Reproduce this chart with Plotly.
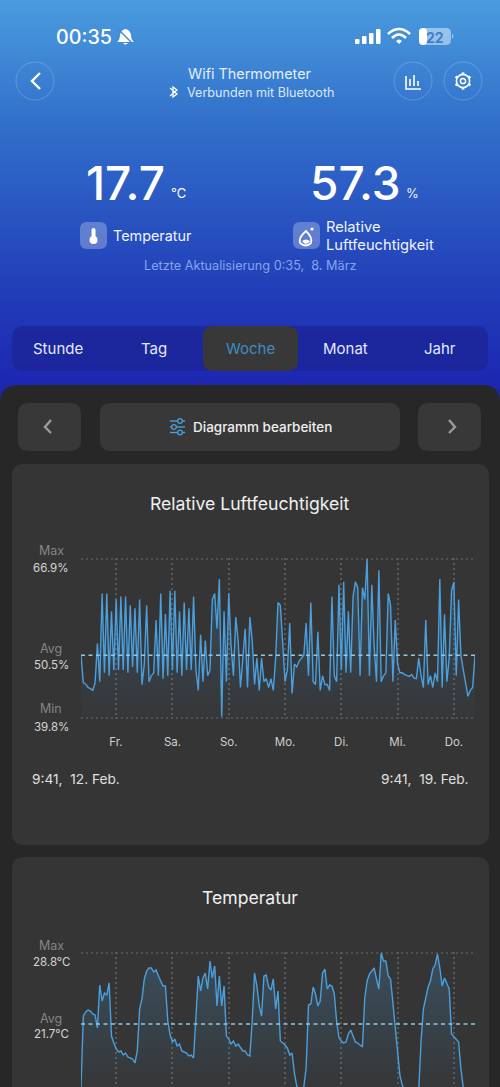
import math
import plotly.graph_objects as go

W, H = 500, 1087
FONT = "Inter"

humidity = [
 50.5,45.8,45.6,45.0,44.8,44.5,45.8,52.5,46,61,47.5,61,47,58,48,60,48,60.5,48,60.5,47.5,59,48.5,58.5,
 47.5,60,45.5,49,59,46,47,47.5,56.5,47,61,46.5,57.5,47,61.5,48,61.5,47.5,58,47,59.5,48,58.5,48,
 60.5,48,44.5,54,46,53,47,48,60,61,55,63.5,40,58,46,61,52,47,57,53,45,50,55,45,
 57,53,45.5,50,44.5,50,46,46.5,45,46.5,44.5,50,59.5,59,52,46,48,56,44,49,48.5,49.5,50,50.5,
 56,47,59.5,46,45.5,54.5,44.5,47,45.5,45.5,44.5,60.5,47,46,62.5,48,63,47.5,58,47.5,60.5,63,62,47,
 62,60,66.9,47,62.5,52,46,65,46,47,47.5,61,59,46,56.5,49,47.5,47.5,47.2,47,46.9,47.2,46.6,46.5,
 50,47,45,56.5,45.5,47,45,47.5,46,63.5,45,57.5,46,50,61.5,63,47,60,50.5,48,46,43.5,44.5,45,50.5,
]
temperature = [
 15.4,22.5,22.9,23.1,23,22.7,22.6,21.3,25.6,24,24.8,24.6,25.8,20.5,19.8,19.2,18.9,19,18.6,18.8,18.4,18.3,18.2,17.8,
 19,23.2,24.2,26.2,27,27.3,27.3,26.9,27.1,26.5,26,25.5,25.5,22,20.6,19.9,20.2,19.5,19.7,19,18.9,18.8,18.5,18.6,
 18.3,22,26.5,25,26.3,26.8,25.2,28,26.3,27.5,23.5,26.5,23.5,25.5,20.5,20.2,19.7,20,19.5,19.7,19.4,19,19,18.6,
 18.5,22,26.8,25.5,23.5,22.5,26.5,26.6,25.4,25.1,26.2,23.2,25,20,19.8,19.6,19.3,18.6,18.8,16.8,15.5,15.2,14.8,15.4,
 17.3,23.6,23.7,25.4,24.7,23.5,24,26.8,27.2,25.2,25.6,25.5,24.7,22,20.3,20,19.8,19.9,20.7,21.1,20.5,19.9,19.8,19.6,
 19.4,24.3,26,26.7,27,27.3,26.2,25.2,28.8,28,28,26.5,26.2,23.6,21.3,18.7,16.5,15.6,15.1,14.5,14,13.5,13.5,14,
 15,20,23.2,24.5,25.4,26,27.2,27.6,28.7,27.3,25.5,26.3,25.7,25.2,20.7,20.4,20.2,19.9,17.2,15.2,13.5,13.5,14,14.5,15,
]
hours = list(range(len(humidity)))
day_labels = ["Fr.", "Sa.", "So.", "Mo.", "Di.", "Mi.", "Do."]
day_hours = [14.9, 39.0, 63.0, 87.0, 111.0, 135.0, 159.0]
hum_max, hum_avg, hum_min = 66.9, 50.5, 39.8
tmp_max, tmp_avg = 28.8, 21.7
tmp_bottom = 15.4
tabs = ["Stunde", "Tag", "Woche", "Monat", "Jahr"]

LINE = "#4a9fdc"
AVG = "#8fc9ea"
GRID = "#595959"
CARD = "#353535"
shapes, ann = [], []

def fx(x): return x / W
def fy(y): return 1 - y / H

def P(s):
    out, i = [], 0
    for t in s.split():
        if t.isalpha():
            out.append(t)
        else:
            v = float(t)
            out.append(f"{fx(v):.5f}" if i % 2 == 0 else f"{fy(v):.5f}")
            i += 1
    res, buf = "", []
    for t in out:
        if t.isalpha():
            res += " " + t
            buf = []
        else:
            buf.append(t)
            res += (" " if len(buf) % 2 else ",") + t
    return res.strip()

def path(s, fill=None, line=None, w=1.5, layer="below"):
    shapes.append(dict(type="path", xref="paper", yref="paper", path=P(s),
                       fillcolor=fill or "rgba(0,0,0,0)",
                       line=dict(color=line or "rgba(0,0,0,0)", width=w if line else 0), layer=layer))

def rrect(x0, y0, x1, y1, r, fill, layer="below"):
    path(f"M {x0+r} {y0} L {x1-r} {y0} Q {x1} {y0} {x1} {y0+r} L {x1} {y1-r} Q {x1} {y1} {x1-r} {y1} "
         f"L {x0+r} {y1} Q {x0} {y1} {x0} {y1-r} L {x0} {y0+r} Q {x0} {y0} {x0+r} {y0} Z", fill=fill, layer=layer)

def circ(cx, cy, r, fill=None, line=None, w=1, layer="below"):
    shapes.append(dict(type="circle", xref="paper", yref="paper", x0=fx(cx-r), x1=fx(cx+r), y0=fy(cy+r), y1=fy(cy-r),
                       fillcolor=fill or "rgba(0,0,0,0)", line=dict(color=line or "rgba(0,0,0,0)", width=w if line else 0), layer=layer))

def txt(x, y, s, size, color, anchor="center", weight=400):
    shift = {"left": -2, "right": 2}.get(anchor, 0)
    ann.append(dict(xref="paper", yref="paper", x=fx(x), y=fy(y), xshift=shift, text=s, showarrow=False, xanchor=anchor, yanchor="middle",
                    font=dict(family=FONT, size=size, color=color, weight=weight)))

# background gradient, built from stacked bands
stops = [(0, (74, 156, 222)), (120, (50, 112, 203)), (290, (33, 62, 184)), (400, (28, 34, 176))]
for y in range(0, 400, 2):
    for (a, ca), (b, cb) in zip(stops, stops[1:]):
        if a <= y < b:
            t = (y - a) / (b - a)
            c = tuple(round(ca[i] + (cb[i] - ca[i]) * t) for i in range(3))
    shapes.append(dict(type="rect", xref="paper", yref="paper", x0=0, x1=1, y0=fy(y + 2.5), y1=fy(y),
                       fillcolor=f"rgb{c}", line=dict(width=0), layer="below"))

# panels
rrect(0, 385, 500, 1100, 18, "#272727")
rrect(12, 326, 488, 371, 12, "rgba(28,36,150,0.75)")
rrect(203, 326, 298, 371, 11, "#383838")
rrect(18, 403, 81, 451, 11, "#383838")
rrect(100, 403, 400, 451, 11, "#383838")
rrect(418, 403, 481, 451, 11, "#383838")
rrect(12, 464, 489, 845, 12, CARD)
rrect(12, 857, 489, 1110, 12, CARD)

# status bar
txt(56, 37, "00:35", 19.7, "white", "left", 500)
path("M 117 42 Q 120 40 120 35 Q 121 30 125.5 29 Q 130 30 131 35 Q 131 40 134 42 Z", fill="white")
path("M 123 43 Q 125.5 46 128 43 Z", fill="white")
path("M 118 29 L 134 45", line="#4388d4", w=1.4)
for i, (bx, top) in enumerate(zip((355, 362, 369, 376), (39, 36, 33, 29))):
    rrect(bx, top, bx + 4.5, 44, 1, "white")
path("M 388 34 Q 399 24 410 34", line="white", w=2.6)
path("M 392 38 Q 399 31 406 38", line="white", w=2.6)
path("M 396 41 L 399 44 L 402 41 Q 399 38 396 41 Z", fill="white")
rrect(419, 28, 451, 45, 5, "rgba(255,255,255,0.45)")
rrect(419, 28, 427, 45, 4, "white")
path("M 452 34 Q 455 36 452 39 Z", fill="rgba(255,255,255,0.5)")
txt(435, 37, "22", 14, "#3f7fcb", "center", 700)

# header
for cx in (35, 413, 463):
    circ(cx, 81, 19, line="rgba(255,255,255,0.2)", w=1)
path("M 40 73 L 32 81 L 40 89", line="white", w=2.4)
txt(250, 73, "Wifi Thermometer", 14.4, "#e3eefc")
txt(260, 92, "Verbunden mit Bluetooth", 12.6, "#dbe7fa")
path("M 170 88 L 177 94 L 173 97 L 173 87 L 177 90 L 170 96", line="white", w=1.3)
path("M 406 76 L 406 89 L 421 89", line="white", w=1.6)
for bx, top in ((410, 79), (414, 75), (418, 81)):
    path(f"M {bx} {top} L {bx} 86", line="white", w=1.6)
circ(463, 81, 6.6, line="white", w=1.6)
circ(463, 81, 2.6, line="white", w=1.5)
for k in range(6):
    a = math.radians(30 + 60 * k)
    path(f"M {463 + 6.4 * math.cos(a):.2f} {81 + 6.4 * math.sin(a):.2f} L {463 + 8.6 * math.cos(a):.2f} {81 + 8.6 * math.sin(a):.2f}",
         line="white", w=2.6)

# current readings
txt(86, 183, "17.7", 46, "white", "left", 500)
txt(171, 193, "°C", 13, "white", "left")
txt(310, 183, "57.3", 46, "white", "left", 500)
txt(406, 193, "%", 13, "#e6eefc", "left")
rrect(80, 222, 107, 249, 7, "rgba(255,255,255,0.27)")
rrect(91.5, 228, 95.5, 240, 2, "white")
circ(93.5, 240, 4, fill="white")
txt(113, 236, "Temperatur", 14.4, "#eef3ff", "left")
rrect(293, 222, 320, 249, 7, "rgba(255,255,255,0.27)")
path("M 306 231 Q 298 238 300 243 Q 306 248 311 243 Q 313 238 306 231 Z", line="white", w=1.8)
path("M 302 241 Q 306 238 310 241 Q 306 247 302 241 Z", fill="white")
circ(312, 229, 1.6, fill="white")
txt(326, 227, "Relative", 14.7, "#eef3ff", "left")
txt(326, 245, "Luftfeuchtigkeit", 14.7, "#eef3ff", "left")
txt(250, 266, "Letzte Aktualisierung 0:35,  8. März", 12.7, "#86a4ec")

# tabs
for cx, name in zip((58, 154, 250, 345, 440), tabs):
    txt(cx, 348, name, 15, "#418dc2" if name == "Woche" else "#e2eaff")

# control row
path("M 51 420 L 45 427 L 51 433", line="#9a9a9a", w=2.4)
path("M 449 420 L 455 427 L 449 433", line="#9a9a9a", w=2.4)
for ly, kx in ((421, 180), (427, 174), (432.5, 180)):
    path(f"M 170 {ly} L 185 {ly}", line="#4a9fdc", w=1.4)
    circ(kx, ly, 2.3, fill="#383838", line="#4a9fdc", w=1.3)
txt(193, 427, "Diagramm bearbeiten", 13.5, "#eeeeee", "left", 500)

# card texts
txt(250, 503, "Relative Luftfeuchtigkeit", 17.6, "#f0f0f0")
txt(250, 897, "Temperatur", 17.6, "#f0f0f0")
txt(32, 779, "9:41,  12. Feb.", 13.7, "#e0e0e0", "left")
txt(469, 779, "9:41,  19. Feb.", 13.7, "#e0e0e0", "right")

def side(label, val, unit, yref, up=8, down=-9):
    ann.append(dict(xref="paper", yref=yref, x=fx(51), y=val, yshift=up, text=label, showarrow=False, xanchor="center", yanchor="middle",
                    font=dict(family=FONT, size=12.5, color="#858585")))
    ann.append(dict(xref="paper", yref=yref, x=fx(51), y=val, yshift=down, text=f"{val}{unit}", showarrow=False, xanchor="center", yanchor="middle",
                    font=dict(family=FONT, size=11.5, color="#d6d6d6")))

side("Max", hum_max, "%", "y")
side("Avg", hum_avg, "%", "y", 7, -10)
side("Min", hum_min, "%", "y", 9, -9)
side("Max", tmp_max, "°C", "y2")
side("Avg", tmp_avg, "°C", "y2", 6, -10)

fig = go.Figure()

def ref_line(val, xa, ya, color, width, dash):
    fig.add_trace(go.Scatter(x=[hours[0], hours[-1]], y=[val, val], mode="lines", xaxis=xa, yaxis=ya, showlegend=False,
                             hoverinfo="skip", line=dict(color=color, width=width, dash=dash)))

def series(vals, xa, ya, top, low):
    fig.add_trace(go.Scatter(x=hours, y=vals, mode="lines", xaxis=xa, yaxis=ya, showlegend=False, hoverinfo="skip",
                             line=dict(color=LINE, width=1.4), fill="tozeroy",
                             fillgradient=dict(type="vertical", start=top, stop=low,
                                               colorscale=[[0, "rgba(74,159,220,0.24)"], [1, "rgba(74,159,220,0.02)"]])))

ref_line(hum_max, "x", "y", GRID, 1.5, "2px,3px")
ref_line(hum_min, "x", "y", GRID, 1.5, "2px,3px")
series(humidity, "x", "y", hum_max, hum_min)
ref_line(hum_avg, "x", "y", AVG, 1.5, "4px,3.5px")
ref_line(tmp_max, "x2", "y2", GRID, 1.5, "2px,3px")
series(temperature, "x2", "y2", tmp_max, tmp_bottom)
ref_line(tmp_avg, "x2", "y2", AVG, 1.5, "4px,3.5px")

def xaxis(labels, anchor):
    return dict(domain=[fx(81), fx(475)], range=[0, 168], anchor=anchor, tickmode="array", tickvals=day_hours,
                ticktext=labels, showgrid=True, gridcolor=GRID, griddash="2px,3px", gridwidth=1.5, zeroline=False, showline=False,
                ticks="", ticklabelstandoff=14, tickfont=dict(family=FONT, size=11.5, color="#cfcfcf"))

def yaxis(domain, rng, anchor):
    return dict(domain=domain, range=rng, anchor=anchor, showticklabels=False,
                showgrid=False, zeroline=False, showline=False, ticks="")

pad = 0.17  # one pixel of headroom so the edge lines are not clipped
fig.update_layout(
    width=W, height=H, margin=dict(l=0, r=0, t=0, b=0), autosize=False,
    paper_bgcolor="#272727", plot_bgcolor="rgba(0,0,0,0)", showlegend=False,
    font=dict(family=FONT),
    xaxis=xaxis(day_labels, "y"),
    yaxis=yaxis([fy(719), fy(558)], [hum_min - pad, hum_max + pad], "x"),
    xaxis2=xaxis(day_labels, "y2") | dict(showticklabels=False),
    yaxis2=yaxis([0, fy(952)], [tmp_bottom, tmp_max + 0.1], "x2"),
    shapes=shapes, annotations=ann,
)
fig.write_html("out.html", config=dict(displayModeBar=False),
               post_script="document.body.style.margin='0';document.body.style.overflow='hidden';")
